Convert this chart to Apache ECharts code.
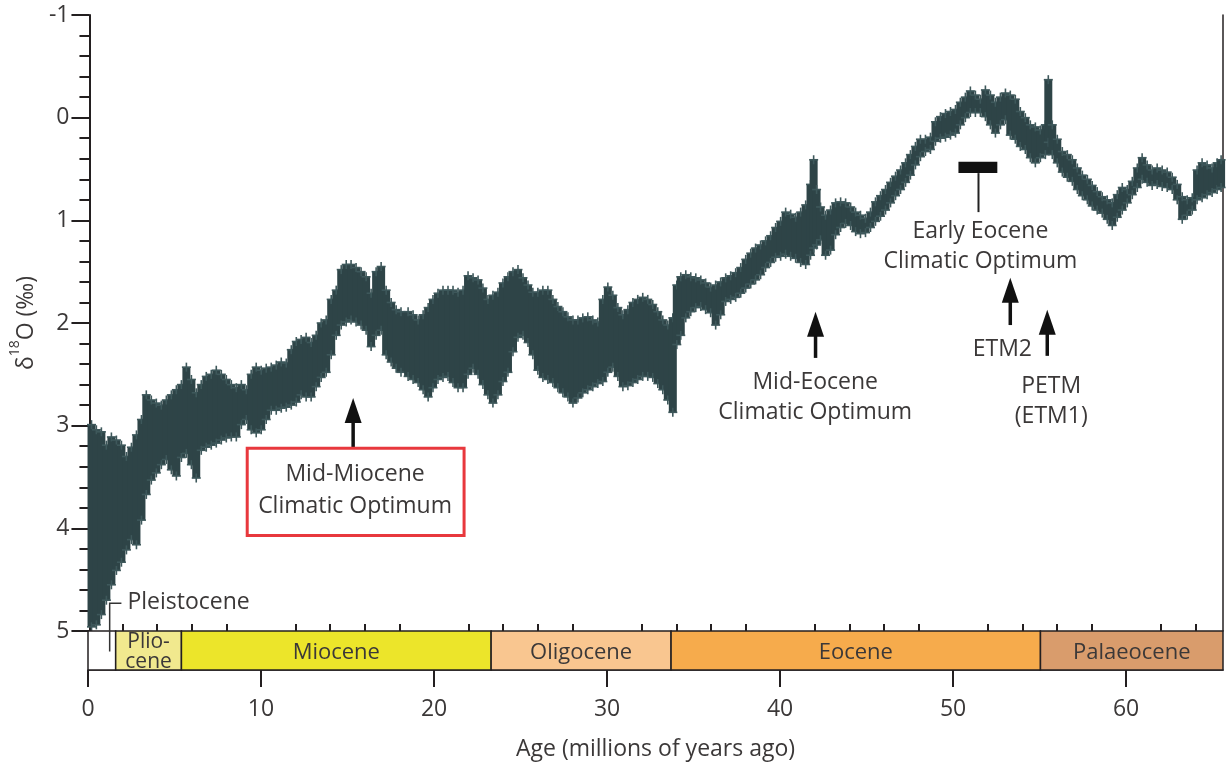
<!DOCTYPE html>
<html><head><meta charset="utf-8">
<script src="https://cdn.jsdelivr.net/npm/echarts@6/dist/echarts.min.js"></script>
<style>html,body{margin:0;padding:0;background:#fff}#chart{width:1232px;height:762px}</style>
</head><body><div id="chart"></div>
<script>
// ---- data: age (Ma) and the upper / lower edge of the d18O cloud (per mil)
const ages = [0.12,0.40,0.69,0.98,1.27,1.56,1.85,2.14,2.43,2.72,3.01,3.29,3.58,3.87,4.16,4.45,4.74,5.03,5.32,5.61,5.90,6.18,6.47,6.76,7.05,7.34,7.63,7.92,8.21,8.50,8.79,9.08,9.36,9.65,9.94,10.23,10.52,10.81,11.10,11.39,11.68,11.97,12.25,12.54,12.83,13.12,13.41,13.70,13.99,14.28,14.57,14.86,15.14,15.43,15.72,16.01,16.30,16.59,16.88,17.17,17.46,17.75,
18.03,18.44,18.73,19.02,19.31,19.60,19.88,20.17,20.46,20.75,21.04,21.33,21.62,21.91,22.20,22.49,22.77,23.06,23.35,23.64,23.93,24.22,24.51,24.80,25.09,25.38,25.66,25.95,26.24,26.53,26.82,27.11,27.40,27.69,27.98,28.27,28.55,28.84,29.13,29.42,29.71,30.00,30.29,30.58,30.87,31.16,31.45,31.73,32.02,32.31,32.60,32.89,33.18,33.47,33.76,
33.99,34.22,34.51,34.80,35.09,35.38,35.66,35.95,36.24,36.53,36.82,37.11,37.40,37.69,37.98,38.27,38.55,38.84,39.13,39.42,39.71,40.00,40.29,40.58,40.87,41.16,41.45,41.73,41.91,42.08,42.31,42.60,42.89,43.18,43.47,43.76,44.05,44.34,44.62,44.91,45.20,45.49,45.78,46.07,46.36,46.65,46.94,47.23,47.51,47.80,48.09,48.38,48.67,48.96,49.25,49.54,49.83,50.12,50.40,50.69,50.98,51.27,51.56,51.85,52.14,52.43,52.72,53.01,53.29,53.58,53.87,54.16,54.45,54.74,55.03,55.32,55.49,55.72,56.01,56.30,56.59,56.88,57.17,57.46,57.75,58.03,58.32,58.61,58.90,59.19,59.48,59.77,60.06,60.35,60.64,60.92,61.21,61.50,61.79,62.08,62.37,62.66,62.95,63.24,63.53,63.82,64.10,64.39,64.68,64.97,65.26,65.49];
const d18oUpper = [2.99,3.04,3.06,3.19,3.11,3.14,3.19,3.30,3.21,3.09,2.94,2.70,2.75,2.78,2.80,2.75,2.70,2.65,2.60,2.43,2.55,2.68,2.60,2.52,2.50,2.46,2.50,2.55,2.60,2.63,2.60,2.65,2.50,2.43,2.46,2.44,2.43,2.41,2.38,2.39,2.26,2.18,2.16,2.14,2.19,2.12,2.00,1.97,1.77,1.68,1.48,1.43,1.43,1.46,1.50,1.55,1.71,1.50,1.45,1.68,1.80,1.87,
1.89,1.89,1.92,1.97,1.92,1.85,1.77,1.71,1.68,1.68,1.68,1.70,1.68,1.54,1.56,1.58,1.66,1.77,1.73,1.70,1.61,1.55,1.50,1.48,1.56,1.63,1.70,1.70,1.68,1.68,1.77,1.84,1.89,1.94,1.97,1.97,1.95,1.94,1.97,1.99,1.77,1.65,1.73,1.85,1.92,1.87,1.80,1.77,1.75,1.77,1.82,1.89,1.97,2.02,1.95,
1.63,1.55,1.53,1.55,1.56,1.58,1.61,1.65,1.63,1.60,1.56,1.54,1.51,1.46,1.38,1.32,1.27,1.24,1.20,1.15,1.07,1.01,0.92,0.94,0.97,0.92,0.85,0.65,0.41,0.70,0.87,0.95,0.90,0.83,0.82,0.83,0.87,0.92,0.95,0.98,0.92,0.82,0.76,0.70,0.63,0.57,0.51,0.44,0.36,0.28,0.21,0.21,0.19,0.04,-0.01,-0.04,-0.06,-0.08,-0.15,-0.20,-0.26,-0.22,-0.18,-0.27,-0.22,-0.15,-0.20,-0.24,-0.22,-0.18,-0.06,0.00,0.07,0.09,0.12,0.07,-0.37,0.07,0.21,0.33,0.36,0.41,0.49,0.56,0.60,0.66,0.72,0.77,0.80,0.83,0.75,0.68,0.70,0.62,0.49,0.39,0.46,0.51,0.49,0.51,0.53,0.58,0.65,0.77,0.80,0.78,0.51,0.44,0.46,0.49,0.44,0.41];
const d18oLower = [4.96,4.94,4.84,4.70,4.55,4.41,4.33,4.21,4.11,4.16,3.92,3.67,3.53,3.46,3.38,3.33,3.43,3.49,3.31,3.27,3.38,3.51,3.24,3.21,3.19,3.17,3.14,3.12,3.11,3.11,2.99,2.94,3.04,3.07,3.04,2.94,2.85,2.85,2.83,2.82,2.80,2.77,2.70,2.72,2.72,2.62,2.53,2.48,2.31,2.12,2.02,1.99,1.97,1.99,2.02,2.07,2.23,2.12,2.07,2.31,2.38,2.44,
2.48,2.52,2.55,2.58,2.65,2.72,2.63,2.55,2.53,2.52,2.58,2.63,2.63,2.50,2.44,2.50,2.60,2.70,2.78,2.70,2.57,2.48,2.28,2.14,2.12,2.19,2.31,2.46,2.53,2.55,2.58,2.63,2.68,2.72,2.78,2.73,2.68,2.65,2.62,2.59,2.57,2.48,2.43,2.52,2.62,2.61,2.58,2.55,2.52,2.52,2.53,2.59,2.65,2.75,2.87,
2.21,2.12,1.95,1.89,1.85,1.84,1.87,1.90,2.02,1.92,1.79,1.77,1.75,1.71,1.66,1.62,1.58,1.53,1.46,1.41,1.36,1.35,1.33,1.35,1.37,1.41,1.43,1.34,1.27,1.24,1.19,1.34,1.29,1.14,1.07,1.03,1.05,1.11,1.13,1.12,1.07,1.01,0.96,0.90,0.83,0.76,0.70,0.63,0.56,0.46,0.38,0.33,0.31,0.23,0.20,0.19,0.17,0.15,0.07,0.00,-0.05,-0.05,-0.05,-0.01,0.07,0.15,0.07,0.02,0.17,0.21,0.28,0.31,0.39,0.44,0.39,0.36,0.24,0.36,0.44,0.53,0.58,0.62,0.70,0.76,0.80,0.86,0.90,0.93,0.99,1.05,0.97,0.90,0.83,0.75,0.68,0.60,0.63,0.66,0.65,0.67,0.68,0.70,0.80,0.99,0.95,0.90,0.80,0.78,0.75,0.73,0.70,0.68];

const epochNames = ['', 'Plio-\ncene', 'Miocene', 'Oligocene', 'Eocene', 'Palaeocene'];
const epochStart = [0, 1.6, 5.4, 23.3, 33.7, 55.05];
const epochEnd   = [1.6, 5.4, 23.3, 33.7, 55.05, 65.6];

const ageTicks = [0, 10, 20, 30, 40, 50, 60];
const ageMinorTicks = [2,4,6,8,12,14,16,18,22,24,26,28,32,34,36,38,42,44,46,48,52,54,56,58,62,64];

// events marked on the chart: [age, d18O of arrow tip, d18O of arrow base]
const eventArrows = [[15.26, 2.73, 3.21], [42.02, 1.89, 2.34], [53.29, 1.56, 2.02], [55.43, 1.87, 2.32]];

// ---- styles
const FONT = '"Open Sans", "Noto Sans", sans-serif';
const TEXT = '#3b3838';
const INK = '#231f20';
const DOT = '#2e4447';
const CROSS = '#3e585b';
const epochColors = ['#ffffff', '#f1e98e', '#ece52a', '#f9c690', '#f6ab4c', '#d99c6c'];

const rangeData = ages.map((a, i) => [a, d18oUpper[i], d18oLower[i]]);
const epochData = epochNames.map((n, i) => [epochStart[i], epochEnd[i], i]);

const chart = echarts.init(document.getElementById('chart'));

function renderRange(params, api) {
  const a = api.value(0);
  const p1 = api.coord([a, api.value(1)]);
  const p2 = api.coord([a, api.value(2)]);
  const w = 8, arm = 4.5;
  const cross = (p) => [
    {type: 'line', shape: {x1: p[0] - arm, y1: p[1], x2: p[0] + arm, y2: p[1]}, style: {stroke: CROSS, lineWidth: 1.6}},
    {type: 'line', shape: {x1: p[0], y1: p[1] - arm, x2: p[0], y2: p[1] + arm}, style: {stroke: CROSS, lineWidth: 1.6}}
  ];
  return {type: 'group', children: [
    {type: 'rect', shape: {x: p1[0] - w / 2, y: p1[1], width: w, height: Math.max(1, p2[1] - p1[1])}, style: {fill: DOT}}
  ].concat(cross(p1), cross(p2))};
}

function renderEpoch(params, api) {
  const i = api.value(2);
  const p0 = api.coord([api.value(0), 1]);
  const p1 = api.coord([api.value(1), 0]);
  const isPlio = i === 1;
  return {type: 'group', children: [
    {type: 'rect', shape: {x: p0[0], y: p0[1], width: p1[0] - p0[0], height: p1[1] - p0[1]},
     style: {fill: epochColors[i], stroke: INK, lineWidth: 1.5}},
    {type: 'text', style: {text: epochNames[i], x: (p0[0] + p1[0]) / 2, y: (p0[1] + p1[1]) / 2 + 2,
     align: 'center', verticalAlign: 'middle', fontFamily: FONT, fontSize: isPlio ? 21 : 22,
     lineHeight: isPlio ? 20 : 24, fill: TEXT}}
  ]};
}

function renderNotes(params, api) {
  const els = [];
  const text = (age, v, s, align) => {
    const p = api.coord([age, v]);
    els.push({type: 'text', style: {text: s, x: p[0], y: p[1], align: align || 'center', verticalAlign: 'middle',
      fontFamily: FONT, fontSize: 23, fill: TEXT}});
  };
  eventArrows.forEach(ar => {
    const tip = api.coord([ar[0], ar[1]]);
    const base = api.coord([ar[0], ar[2]]);
    els.push({type: 'line', shape: {x1: tip[0], y1: tip[1] + 20, x2: base[0], y2: base[1]}, style: {stroke: '#111', lineWidth: 3.5}});
    els.push({type: 'polygon', shape: {points: [[tip[0], tip[1]], [tip[0] - 8.5, tip[1] + 25], [tip[0] + 8.5, tip[1] + 25]]}, style: {fill: '#111'}});
  });
  // Mid-Miocene box
  const b0 = api.coord([9.13, 3.22]), b1 = api.coord([21.68, 4.07]);
  els.push({type: 'rect', shape: {x: b0[0], y: b0[1], width: b1[0] - b0[0], height: b1[1] - b0[1]},
    style: {fill: 'none', stroke: '#e8383d', lineWidth: 3}});
  text(15.37, 3.48, 'Mid-Miocene');
  text(15.37, 3.79, 'Climatic Optimum');
  text(42.0, 2.58, 'Mid-Eocene');
  text(42.0, 2.87, 'Climatic Optimum');
  // Early Eocene bar
  const e0 = api.coord([50.29, 0.43]), e1 = api.coord([52.54, 0.54]);
  els.push({type: 'rect', shape: {x: e0[0], y: e0[1], width: e1[0] - e0[0], height: e1[1] - e0[1]}, style: {fill: '#111'}});
  const l0 = api.coord([51.45, 0.54]), l1 = api.coord([51.45, 0.92]);
  els.push({type: 'line', shape: {x1: l0[0], y1: l0[1], x2: l1[0], y2: l1[1]}, style: {stroke: '#222', lineWidth: 2}});
  text(51.56, 1.11, 'Early Eocene');
  text(51.56, 1.40, 'Climatic Optimum');
  text(52.83, 2.26, 'ETM2');
  text(55.66, 2.62, 'PETM');
  text(55.66, 2.91, '(ETM1)');
  // Pleistocene bracket
  const q0 = api.coord([1.17, 4.73]), q1 = api.coord([1.17, 5.2]), q2 = api.coord([1.85, 4.73]);
  els.push({type: 'polyline', shape: {points: [[q2[0], q2[1]], [q0[0], q0[1]], [q1[0], q1[1]]]}, style: {stroke: '#333', lineWidth: 1.5, fill: 'none'}});
  text(2.2, 4.72, 'Pleistocene', 'left');
  return {type: 'group', children: els};
}

const option = {
  animation: false,
  backgroundColor: '#ffffff',
  grid: [
    {left: 88, right: 9, top: 15, bottom: 131},
    {left: 88, right: 9, top: 631, bottom: 90}
  ],
  xAxis: [
    {type: 'value', gridIndex: 0, min: 0, max: 65.6, show: false},
    {type: 'value', gridIndex: 1, min: 0, max: 65.6,
     name: 'Age (millions of years ago)', nameLocation: 'middle', nameGap: 68,
     nameTextStyle: {fontFamily: FONT, fontSize: 23, color: TEXT},
     axisLine: {show: true, lineStyle: {color: INK, width: 1.5}},
     axisTick: {show: true, customValues: ageTicks, length: 17, lineStyle: {color: INK, width: 2}},
     axisLabel: {customValues: ageTicks, margin: 28, fontFamily: FONT, fontSize: 23, color: TEXT},
     splitLine: {show: false}},
    {type: 'value', gridIndex: 1, min: 0, max: 65.6,
     axisLine: {show: false},
     axisTick: {show: true, customValues: ageMinorTicks, length: 7, lineStyle: {color: INK, width: 2}},
     axisLabel: {show: false}, splitLine: {show: false}}
  ],
  yAxis: [
    {type: 'value', gridIndex: 0, min: -1, max: 5, interval: 1, inverse: true,
     name: '{d|δ}{s|18}{d|O (‰)}', nameLocation: 'middle', nameGap: 40, nameRotate: 90,
     nameTextStyle: {rich: {
       d: {fontFamily: FONT, fontSize: 23, color: TEXT, lineHeight: 30, verticalAlign: 'bottom'},
       s: {fontFamily: FONT, fontSize: 14, color: TEXT, lineHeight: 30, verticalAlign: 'top'}}},
     axisLine: {show: true, lineStyle: {color: INK, width: 2}},
     axisTick: {show: true, length: 18, lineStyle: {color: INK, width: 2}},
     minorTick: {show: true, splitNumber: 5, length: 10, lineStyle: {color: INK, width: 2}},
     axisLabel: {margin: 20, fontFamily: FONT, fontSize: 23, color: TEXT},
     splitLine: {show: false}},
    {type: 'value', gridIndex: 1, min: 0, max: 1, show: false},
    {type: 'value', gridIndex: 0, min: 0, max: 1, position: 'right',
     axisLine: {show: true, onZero: false, lineStyle: {color: INK, width: 1.5}},
     axisTick: {show: false}, axisLabel: {show: false}, splitLine: {show: false}}
  ],
  series: [
    {type: 'custom', name: 'd18O', xAxisIndex: 0, yAxisIndex: 0, data: rangeData,
     encode: {x: 0, y: [1, 2]}, renderItem: renderRange, silent: true, z: 2},
    {type: 'custom', name: 'epochs', xAxisIndex: 1, yAxisIndex: 1, data: epochData,
     encode: {x: [0, 1]}, renderItem: renderEpoch, silent: true, z: 3},
    {type: 'custom', name: 'notes', xAxisIndex: 0, yAxisIndex: 0, data: [[0, 0]],
     renderItem: renderNotes, silent: true, z: 5}
  ]
};
chart.setOption(option);
</script>
</body></html>
